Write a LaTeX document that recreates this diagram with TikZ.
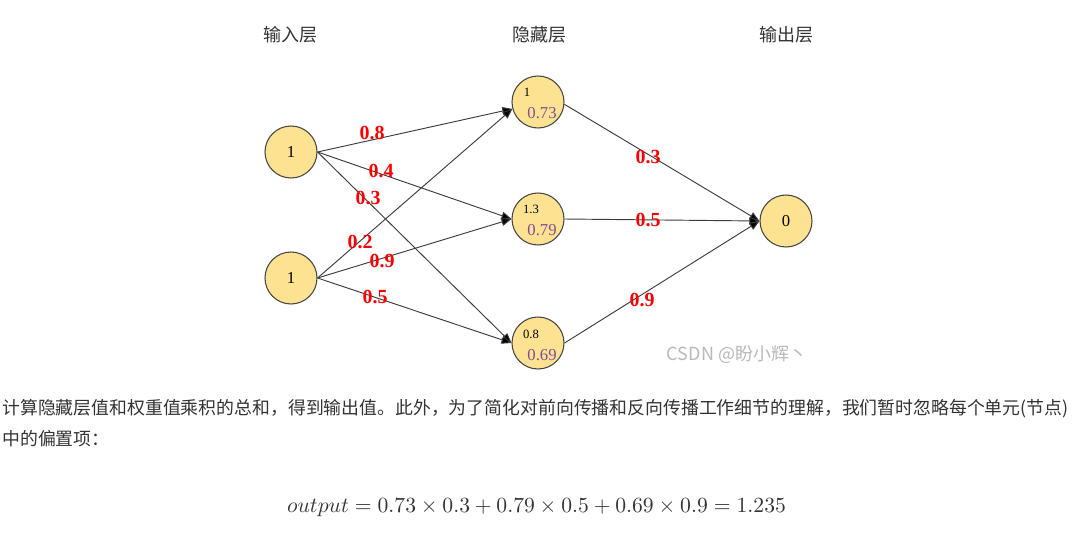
\documentclass[tikz,border=0pt]{standalone}
\usepackage{fontspec}
\usepackage{graphicx}
\setmainfont{Liberation Serif}
\newfontfamily\cjk{Noto Sans CJK SC}
\usetikzlibrary{arrows.meta}
\definecolor{nodefill}{RGB}{253,226,146}
\definecolor{nodeedge}{RGB}{70,70,70}
\definecolor{edgecol}{RGB}{60,60,60}
\definecolor{purp}{RGB}{128,78,150}
\definecolor{txt}{RGB}{51,51,51}
\definecolor{wm}{RGB}{185,185,185}
\tikzset{
  neuron/.style={circle, draw=nodeedge, line width=0.8pt, fill=nodefill, minimum size=39pt, inner sep=0pt},
  conn/.style={draw=edgecol, line width=0.7pt, -{Triangle[length=7.5pt,width=6pt,fill=black]}},
  wlabel/.style={text=red, font=\fontsize{15pt}{15pt}\selectfont\bfseries, inner sep=0pt},
  header/.style={font=\cjk\fontsize{13.5pt}{14pt}\selectfont, text=txt, inner sep=0pt},
  small/.style={font=\fontsize{9.5pt}{10pt}\selectfont, inner sep=0pt},
  val/.style={font=\fontsize{12.5pt}{13pt}\selectfont, text=purp, inner sep=0pt},
  bodytext/.style={anchor=west, font=\cjk\fontsize{13.4pt}{14pt}\selectfont, text=txt, inner sep=0pt},
}
\begin{document}
\begin{tikzpicture}[x=0.75pt,y=-0.75pt]
\path[fill=white,use as bounding box] (0,0) rectangle (1080,539);

% headers
\node[header] (hin) at (290,35) {输入层};
\node[header] (hhid) at (539,35) {隐藏层};
\node[header] (hout) at (786,35) {输出层};

% nodes
\node[neuron, font=\fontsize{12.5pt}{13pt}\selectfont] (i1) at (291,152) {1};
\node[neuron, font=\fontsize{12.5pt}{13pt}\selectfont] (i2) at (291,278) {1};
\node[neuron] (h1) at (538,102) {};
\node[neuron] (h2) at (538,219) {};
\node[neuron] (h3) at (538,343) {};
\node[neuron, font=\fontsize{12.5pt}{13pt}\selectfont] (o) at (786,221) {0};

% hidden node contents
\node[small] (h1a) at (527,92) {1};
\node[val] (h1b) at (542,113) {0.73};
\node[small] (h2a) at (531,209) {1.3};
\node[val] (h2b) at (542,230) {0.79};
\node[small] (h3a) at (531,334) {0.8};
\node[val] (h3b) at (542,355) {0.69};

% connections
\draw[conn] (i1.east) -- (h1.195);
\draw[conn] (i1.east) -- (h2.west);
\draw[conn] (i1.east) -- (h3.west);
\draw[conn] (i2.east) -- (h1.195);
\draw[conn] (i2.east) -- (h2.west);
\draw[conn] (i2.east) -- (h3.west);
\draw[conn] (h1.-5) -- (o.west);
\draw[conn] (h2.east) -- (o.west);
\draw[conn] (h3.east) -- (o.west);

% weight labels
\node[wlabel] (w1) at (372,133) {0.8};
\node[wlabel] (w2) at (381,171) {0.4};
\node[wlabel] (w3) at (368,198) {0.3};
\node[wlabel] (w4) at (360,242) {0.2};
\node[wlabel] (w5) at (382,261) {0.9};
\node[wlabel] (w6) at (375,297) {0.5};
\node[wlabel] (w7) at (648,157) {0.3};
\node[wlabel] (w8) at (648,220) {0.5};
\node[wlabel] (w9) at (642,300) {0.9};

% watermark
\node[font=\cjk\fontsize{13.5pt}{14pt}\selectfont, text=wm, inner sep=0pt] (wmk) at (737,355) {CSDN @盼小辉丶};

% body text
\node[bodytext] (t1) at (2,409) {计算隐藏层值和权重值乘积的总和，得到输出值。此外，为了简化对前向传播和反向传播工作细节的理解，我们暂时忽略每个单元(节点)};
\node[bodytext] (t2) at (2,439) {中的偏置项：};

% equation
\node[inner sep=0pt, text=txt] (eq) at (536.5,508) {\resizebox{374pt}{!}{$output=0.73\times0.3+0.79\times0.5+0.69\times0.9=1.235$}};
\end{tikzpicture}
\end{document}
